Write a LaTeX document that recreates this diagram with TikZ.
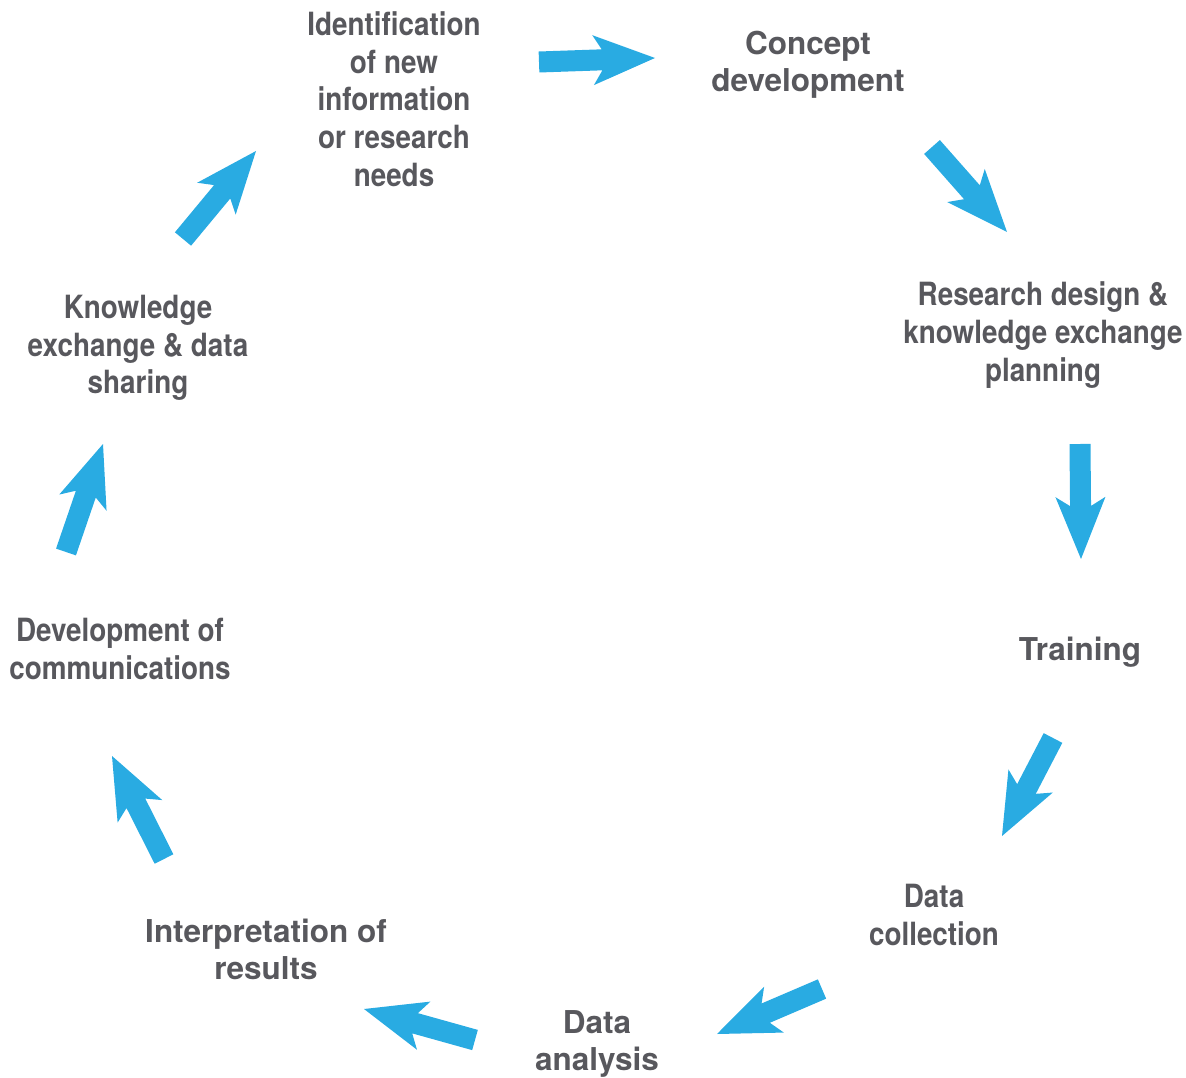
\documentclass[tikz,border=0pt]{standalone}
\usepackage{fontspec}
\usetikzlibrary{calc}
\newfontfamily\condbold[FakeStretch=0.87]{TeX Gyre Heros Bold}
\newfontfamily\medsans{TeX Gyre Heros Bold}
\definecolor{txtgray}{HTML}{58585D}
\definecolor{arrblue}{HTML}{29ABE2}
\newcommand\blockarrow[2]{%
  \fill[arrblue]
    ($(#1)!10.5pt!90:(#2)$) --
    ($(#2)!53pt!(#1)!10.5pt!90:(#2)$) --
    ($(#2)!62pt!(#1)!25pt!90:(#2)$) --
    (#2) --
    ($(#2)!62pt!(#1)!25pt!-90:(#2)$) --
    ($(#2)!53pt!(#1)!10.5pt!-90:(#2)$) --
    ($(#1)!10.5pt!-90:(#2)$) -- cycle;}
\tikzset{
  boldlabel/.style={text=txtgray, align=center, inner sep=0pt,
    font={\condbold\fontsize{32}{37.7}\selectfont}},
  medlabel/.style={text=txtgray, align=center, inner sep=0pt,
    font={\medsans\fontsize{31.5}{37}\selectfont}},
}
\begin{document}
\begin{tikzpicture}[x=1pt,y=-1pt]
\useasboundingbox (0,0) rectangle (1186,1078);
% labels
\node[boldlabel] (ident) at (394,99) {Identification\\of new\\information\\or research\\needs};
\node[medlabel] (concept) at (808,64.5) {Concept\\development};
\node[boldlabel] (design) at (1043,335) {Research design \&\\knowledge exchange\\planning};
\node[medlabel] (train) at (1080,652) {Training};
\node[boldlabel] (collect) at (934,915) {Data\\collection};
\node[medlabel] (analysis) at (597,1043.5) {Data\\analysis};
\node[medlabel] (interp) at (266,949.5) {Interpretation of\\results};
\node[boldlabel] (comms) at (120,649) {Development of\\communications};
\node[boldlabel] (know) at (138,348) {Knowledge\\exchange \& data\\sharing};
% arrow end points
\coordinate (a1s) at (539,62);   \coordinate (a1e) at (655,58);
\coordinate (a2s) at (932,147);  \coordinate (a2e) at (1007,232);
\coordinate (a3s) at (1080,444); \coordinate (a3e) at (1081,559);
\coordinate (a4s) at (1053,738); \coordinate (a4e) at (1002,836);
\coordinate (a5s) at (822,989);  \coordinate (a5e) at (717,1034);
\coordinate (a6s) at (475,1040); \coordinate (a6e) at (364,1009);
\coordinate (a7s) at (164,859);  \coordinate (a7e) at (112,756);
\coordinate (a8s) at (66,552);   \coordinate (a8e) at (103,444);
\coordinate (a9s) at (183,239);  \coordinate (a9e) at (256,151);
\blockarrow{a1s}{a1e}
\blockarrow{a2s}{a2e}
\blockarrow{a3s}{a3e}
\blockarrow{a4s}{a4e}
\blockarrow{a5s}{a5e}
\blockarrow{a6s}{a6e}
\blockarrow{a7s}{a7e}
\blockarrow{a8s}{a8e}
\blockarrow{a9s}{a9e}
\end{tikzpicture}
\end{document}
